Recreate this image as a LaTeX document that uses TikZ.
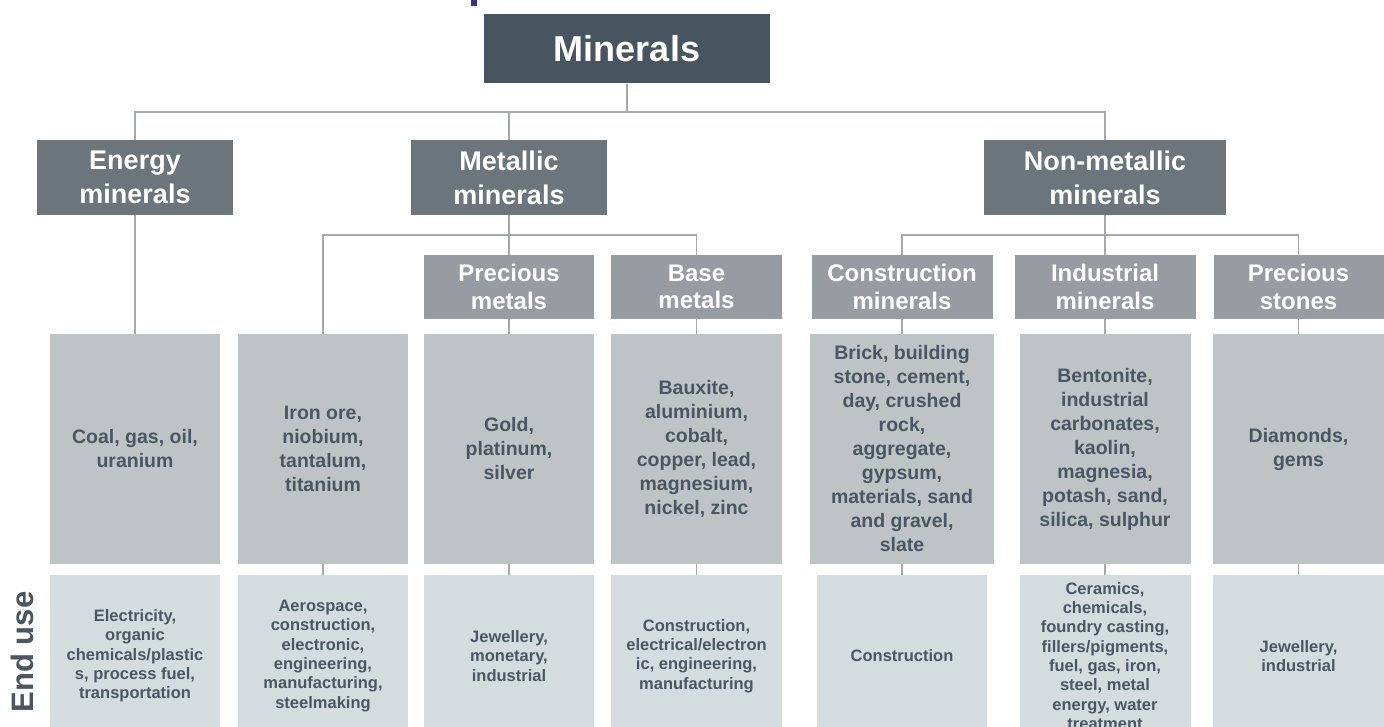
\documentclass[tikz,border=0pt]{standalone}
\usepackage{fontspec}
\setmainfont{Liberation Sans}
\definecolor{topcol}{HTML}{46555F}
\definecolor{grpcol}{HTML}{6C757B}
\definecolor{subcol}{HTML}{969CA1}
\definecolor{itemcol}{HTML}{BEC3C6}
\definecolor{usecol}{HTML}{D4DCE0}
\definecolor{textcol}{HTML}{4A5661}
\definecolor{linecol}{HTML}{A5A9AD}
\definecolor{titlecol}{HTML}{3F2D8F}
\begin{document}
\begin{tikzpicture}[x=1pt,y=-1pt, every node/.style={inner sep=0pt, align=center},
    mainbox/.style={fill=topcol, text=white, font=\bfseries\fontsize{36}{40}\selectfont},
    groupbox/.style={fill=grpcol, text=white, minimum height=75pt, font=\bfseries\fontsize{27}{34}\selectfont},
    subbox/.style={fill=subcol, text=white, minimum height=64pt, font=\bfseries\fontsize{24}{27.5}\selectfont},
    itembox/.style={fill=itemcol, text=textcol, minimum height=230pt, font=\bfseries\fontsize{19.5}{24}\selectfont},
    usebox/.style={fill=usecol, text=textcol, minimum height=162pt, font=\bfseries\fontsize{16.5}{19.3}\selectfont},
    conn/.style={draw=linecol, line width=1.2pt}]
    \useasboundingbox (0,0) rectangle (1384,727);
    \fill[titlecol] (471,0) rectangle (477,6);

    \node [mainbox, minimum width=286pt, minimum height=69pt] (min) at (627,49) {Minerals};

    \node [groupbox, minimum width=196pt] (energy) at (135,177.5) {Energy\\minerals};
    \node [groupbox, minimum width=196pt] (metal) at (509,177.5) {Metallic\\minerals};
    \node [groupbox, minimum width=242pt] (nonmetal) at (1105,177.5) {Non-metallic\\minerals};

    \node [subbox, minimum width=170pt] (pmetal) at (509,287) {Precious\\metals};
    \node [subbox, minimum width=171pt] (bmetal) at (696.5,287) {Base\\metals};
    \node [subbox, minimum width=181pt] (constr) at (902,287) {Construction\\minerals};
    \node [subbox, minimum width=181pt] (indus) at (1105,287) {Industrial\\minerals};
    \node [subbox, minimum width=170pt] (pstone) at (1298.5,287) {Precious\\stones};

    \node [itembox, minimum width=170pt] (c1) at (135,449) {Coal, gas, oil,\\uranium};
    \node [itembox, minimum width=170pt] (c2) at (323,449) {Iron ore,\\niobium,\\tantalum,\\titanium};
    \node [itembox, minimum width=170pt] (c3) at (509,449) {Gold,\\platinum,\\silver};
    \node [itembox, minimum width=171pt] (c4) at (696.5,449) {Bauxite,\\aluminium,\\cobalt,\\copper, lead,\\magnesium,\\nickel, zinc};
    \node [itembox, minimum width=184pt] (c5) at (902,449) {Brick, building\\stone, cement,\\day, crushed\\rock,\\aggregate,\\gypsum,\\materials, sand\\and gravel,\\slate};
    \node [itembox, minimum width=171pt] (c6) at (1105,449) {Bentonite,\\industrial\\carbonates,\\kaolin,\\magnesia,\\potash, sand,\\silica, sulphur};
    \node [itembox, minimum width=171pt] (c7) at (1298.5,449) {Diamonds,\\gems};

    \node [rotate=90, text=textcol, font=\bfseries\fontsize{31}{31}\selectfont] (enduse) at (22,652) {End use};
    \node [usebox, minimum width=170pt] (u1) at (135,656) {Electricity,\\organic\\chemicals/plastic\\s, process fuel,\\transportation};
    \node [usebox, minimum width=170pt] (u2) at (323,656) {Aerospace,\\construction,\\electronic,\\engineering,\\manufacturing,\\steelmaking};
    \node [usebox, minimum width=170pt] (u3) at (509,656) {Jewellery,\\monetary,\\industrial};
    \node [usebox, minimum width=171pt] (u4) at (696.5,656) {Construction,\\electrical/electron\\ic, engineering,\\manufacturing};
    \node [usebox, minimum width=170pt] (u5) at (902,656) {Construction};
    \node [usebox, minimum width=171pt] (u6) at (1105,656) {Ceramics,\\chemicals,\\foundry casting,\\fillers/pigments,\\fuel, gas, iron,\\steel, metal\\energy, water\\treatment};
    \node [usebox, minimum width=171pt] (u7) at (1298.5,656) {Jewellery,\\industrial};

    \coordinate (bar1) at (627,112);
    \coordinate (bar2) at (509,235);
    \coordinate (bar3) at (1105,235);
    \draw [conn] (min) -- (bar1);
    \draw [conn] (energy.north) |- (bar1) -| (nonmetal.north);
    \draw [conn] (metal.north) -- (metal.north |- bar1);
    \draw [conn] (energy) -- (c1);
    \draw [conn] (metal) -- (pmetal);
    \draw [conn] (c2.north) |- (bar2) -| (bmetal.north);
    \draw [conn] (nonmetal) -- (indus);
    \draw [conn] (constr.north) |- (bar3) -| (pstone.north);
    \foreach \a/\b in {pmetal/c3, bmetal/c4, constr/c5, indus/c6, pstone/c7, c2/u2, c3/u3, c4/u4, c5/u5, c6/u6, c7/u7}
        \draw [conn] (\a) -- (\b);
\end{tikzpicture}
\end{document}
